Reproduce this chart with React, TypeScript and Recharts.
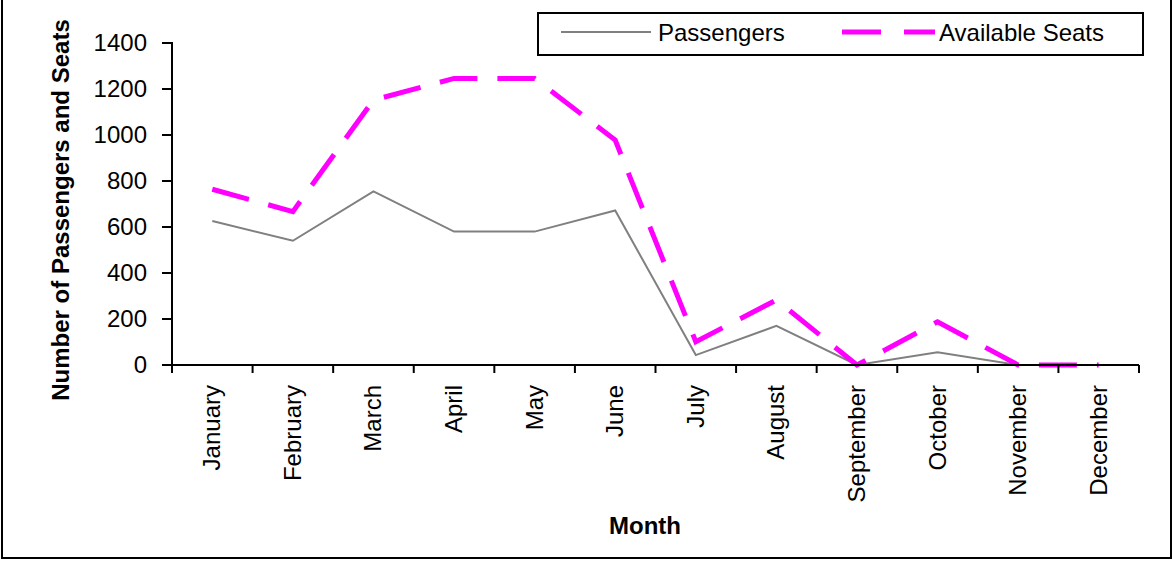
import React from "react";
import { LineChart, Line, XAxis, YAxis, Legend, Label } from "recharts";

const months = [
  "January", "February", "March", "April", "May", "June",
  "July", "August", "September", "October", "November", "December",
];
const passengers = [626, 540, 755, 580, 580, 672, 43, 170, 0, 55, 0, 0];
const availableSeats = [764, 667, 1152, 1246, 1246, 978, 101, 283, 0, 188, 0, 0];
const yTicks = [0, 200, 400, 600, 800, 1000, 1200, 1400];

const data = months.map((m, i) => ({
  month: m,
  passengers: passengers[i],
  seats: availableSeats[i],
}));

const FONT = "'Liberation Sans', Arial, sans-serif";
const W = 1172;
const H = 562;
const PLOT_TOP = 43;
const PLOT_LEFT = 172;
const PLOT_RIGHT = 33;
const X_AXIS_H = 197;
const BAND = (W - PLOT_LEFT - PLOT_RIGHT) / months.length;

const MonthTick = (props: any) => {
  const { x, y, payload } = props;
  const last = payload.value === months[months.length - 1];
  return (
    <g>
      <line x1={x - BAND / 2} x2={x - BAND / 2} y1={y} y2={y + 8} stroke="#000" strokeWidth={2} />
      {last && <line x1={x + BAND / 2} x2={x + BAND / 2} y1={y} y2={y + 8} stroke="#000" strokeWidth={2} />}
      <text
        x={x + 8}
        y={y + 20}
        transform={`rotate(-90 ${x + 8} ${y + 20})`}
        textAnchor="end"
        fontFamily={FONT}
        fontSize={24}
        fill="#000"
      >
        {payload.value}
      </text>
    </g>
  );
};

const ValueTick = (props: any) => {
  const { x, y, payload } = props;
  return (
    <g>
      <line x1={x - 10} x2={x + 1} y1={y} y2={y} stroke="#000" strokeWidth={2} />
      <text x={x - 25} y={y + 8} textAnchor="end" fontFamily={FONT} fontSize={24} fill="#000">
        {payload.value}
      </text>
    </g>
  );
};

const LegendBox = () => (
  <svg width={607} height={44} style={{ display: "block" }}>
    <rect x={1} y={1} width={605} height={42} fill="#fff" stroke="#000" strokeWidth={2} />
    <line x1={24} x2={114} y1={20} y2={20} stroke="#808080" strokeWidth={2} />
    <text x={121} y={29} fontFamily={FONT} fontSize={24} fill="#000">Passengers</text>
    <line x1={305} x2={398} y1={20} y2={20} stroke="#ff00ff" strokeWidth={5} strokeDasharray="39 23" />
    <text x={402} y={29} fontFamily={FONT} fontSize={24} fill="#000">Available Seats</text>
  </svg>
);

export default function App() {
  return (
    <div style={{ position: "absolute", left: 0, top: 0, width: W, height: H, background: "#fff" }}>
      <div
        style={{
          position: "absolute", left: 1, top: -2, width: 1167, height: 559,
          border: "2px solid #000", borderTop: "none", boxSizing: "content-box",
        }}
      />
      <LineChart
        width={W}
        height={H}
        data={data}
        margin={{ top: PLOT_TOP, right: PLOT_RIGHT, bottom: 0, left: 0 }}
      >
        <XAxis
          dataKey="month"
          height={X_AXIS_H}
          interval={0}
          padding={{ left: BAND / 2, right: BAND / 2 }}
          tickSize={0}
          tickMargin={0}
          tickLine={false}
          axisLine={{ stroke: "#000", strokeWidth: 2 }}
          tick={<MonthTick />}
        >
          <Label
            content={() => (
              <text x={645} y={534} textAnchor="middle" fontFamily={FONT} fontSize={24} fontWeight="bold" fill="#000">
                Month
              </text>
            )}
          />
        </XAxis>
        <YAxis
          width={PLOT_LEFT}
          domain={[0, 1400]}
          ticks={yTicks}
          interval={0}
          tickSize={0}
          tickMargin={0}
          axisLine={{ stroke: "#000", strokeWidth: 2 }}
          tickLine={false}
          tick={<ValueTick />}
        >
          <Label
            content={() => (
              <text
                x={69}
                y={210}
                transform="rotate(-90 69 210)"
                textAnchor="middle"
                fontFamily={FONT}
                fontSize={24}
                fontWeight="bold"
                fill="#000"
              >
                Number of Passengers and Seats
              </text>
            )}
          />
        </YAxis>
        <Legend
          layout="horizontal"
          verticalAlign="middle"
          align="center"
          wrapperStyle={{ top: 12, left: 537, width: 607, height: 44 }}
          content={() => <LegendBox />}
        />
        <Line
          dataKey="passengers"
          name="Passengers"
          stroke="#808080"
          strokeWidth={2}
          dot={false}
          activeDot={false}
          isAnimationActive={false}
        />
        <Line
          dataKey="seats"
          name="Available Seats"
          stroke="#ff00ff"
          strokeWidth={5}
          strokeDasharray="38 20"
          dot={false}
          activeDot={false}
          isAnimationActive={false}
        />
      </LineChart>
      {/* value axis line, drawn on top in case the svg one is hidden */}
      <div
        style={{
          position: "absolute", left: PLOT_LEFT - 1, top: PLOT_TOP - 1,
          width: 2, height: H - X_AXIS_H - PLOT_TOP + 2, background: "#000",
        }}
      />
    </div>
  );
}
